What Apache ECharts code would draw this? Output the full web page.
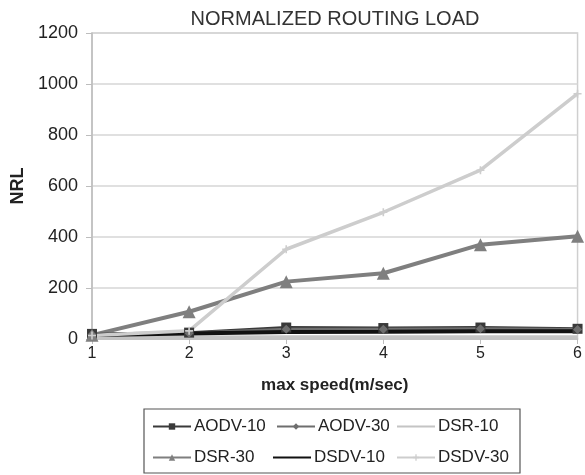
<!DOCTYPE html>
<html>
<head>
<meta charset="utf-8">
<script src="https://cdn.jsdelivr.net/npm/echarts@6/dist/echarts.min.js"></script>
<style>
  html, body { margin: 0; padding: 0; background: #fff; }
  #nrl { width: 585px; height: 475px; }
</style>
</head>
<body>
<div id="nrl"></div>
<script>
var dom = document.getElementById("nrl");
var myChart = echarts.init(dom);

// max speed (m/sec)
var speeds = [1, 2, 3, 4, 5, 6];
var names = ['AODV-10', 'AODV-30', 'DSR-10', 'DSR-30', 'DSDV-10', 'DSDV-30'];
var yTicks = [0, 200, 400, 600, 800, 1000, 1200];

var aodv10 = [20, 25, 45, 43, 45, 40];
var aodv30 = [18, 23, 38, 38, 40, 37];
var dsr10  = [8, 8, 9, 9, 9, 9];
var dsr30  = [15, 107, 225, 258, 370, 403];
var dsdv10 = [16, 22, 27, 28, 30, 30];
var dsdv30 = [14, 32, 352, 497, 662, 962];

var plus = 'path://M4,0H6V4H10V6H6V10H4V6H0V4H4Z';
var plainLine = 'path://M0,0H38V2H0Z';

function pairs(vals) {
    var out = [];
    for (var i = 0; i < speeds.length; i++) out.push([speeds[i], vals[i]]);
    return out;
}

var seriesList = [
    { name: 'AODV-10', data: aodv10, color: '#3a3a3a', width: 3, symbol: 'rect', size: 10 },
    { name: 'AODV-30', data: aodv30, color: '#6e6e6e', width: 3, symbol: 'diamond', size: 9 },
    { name: 'DSR-10',  data: dsr10,  color: '#c4c4c4', width: 3, symbol: 'none', size: 0 },
    { name: 'DSR-30',  data: dsr30,  color: '#7f7f7f', width: 4, symbol: 'triangle', size: 13 },
    { name: 'DSDV-10', data: dsdv10, color: '#111111', width: 4, symbol: 'none', size: 0 },
    { name: 'DSDV-30', data: dsdv30, color: '#cdcdcd', width: 3.5, symbol: plus, size: 8 }
];

// legend slots (two rows of three)
var legendPos = [
    { left: 152, top: 418 }, { left: 276, top: 418 }, { left: 397, top: 418 },
    { left: 152, top: 449 }, { left: 273, top: 449 }, { left: 396, top: 449 }
];

var legends = [];
for (var i = 0; i < names.length; i++) {
    var item = { name: names[i] };
    if (seriesList[i].symbol === 'none') item.icon = plainLine;
    legends.push({
        data: [item],
        left: legendPos[i].left,
        top: legendPos[i].top,
        padding: 0,
        itemWidth: 38,
        itemHeight: 8,
        itemGap: 0,
        lineStyle: { width: 2 },
        textStyle: { fontFamily: 'Liberation Sans', fontSize: 17, color: '#222', padding: [0, 0, 0, -2] },
        selectedMode: false
    });
}

var series = seriesList.map(function (s) {
    return {
        name: s.name,
        type: 'line',
        data: pairs(s.data),
        symbol: s.symbol,
        symbolSize: s.size,
        showSymbol: s.symbol !== 'none',
        color: s.color,
        lineStyle: { color: s.color, width: s.width },
        itemStyle: { color: s.color },
        animation: false
    };
});

option = {
    backgroundColor: '#fff',
    title: {
        text: 'NORMALIZED ROUTING LOAD',
        left: 330,
        textAlign: 'center',
        top: 4,
        textStyle: { fontFamily: 'Liberation Sans', fontSize: 20, fontWeight: 'normal', color: '#333' }
    },
    legend: legends,
    grid: {
        left: 92, right: 7, top: 33, bottom: 136,
        show: true, borderColor: '#cfcfcf', borderWidth: 1.5
    },
    graphic: [{
        type: 'rect',
        shape: { x: 144, y: 409, width: 376, height: 64 },
        style: { fill: 'none', stroke: '#555', lineWidth: 1.2 }
    }],
    xAxis: {
        type: 'value',
        min: 1, max: 6, interval: 1,
        name: 'max speed(m/sec)',
        nameLocation: 'middle',
        nameGap: 38,
        nameTextStyle: { fontFamily: 'Liberation Sans', fontSize: 17, fontWeight: 'bold', color: '#222' },
        axisLine: { lineStyle: { color: '#bdbdbd', width: 1.5 } },
        axisTick: { length: 5, lineStyle: { color: '#bdbdbd' } },
        axisLabel: { fontFamily: 'Liberation Sans', fontSize: 16, color: '#222', margin: 7 },
        splitLine: { show: false }
    },
    yAxis: {
        type: 'value',
        min: yTicks[0], max: yTicks[yTicks.length - 1], interval: 200,
        name: 'NRL',
        nameLocation: 'middle',
        nameGap: 58,
        nameTextStyle: { fontFamily: 'Liberation Sans', fontSize: 18, fontWeight: 'bold', color: '#222' },
        axisLine: { show: true, lineStyle: { color: '#bdbdbd', width: 1.5 } },
        axisTick: { show: true, length: 6, lineStyle: { color: '#bdbdbd' } },
        axisLabel: {
            fontFamily: 'Liberation Sans', fontSize: 18, color: '#222', margin: 14,
            formatter: function (v) { return String(v); }
        },
        splitLine: { lineStyle: { color: '#d6d6d6', width: 1.5 } }
    },
    series: series
};

myChart.setOption(option, true);
</script>
</body>
</html>
